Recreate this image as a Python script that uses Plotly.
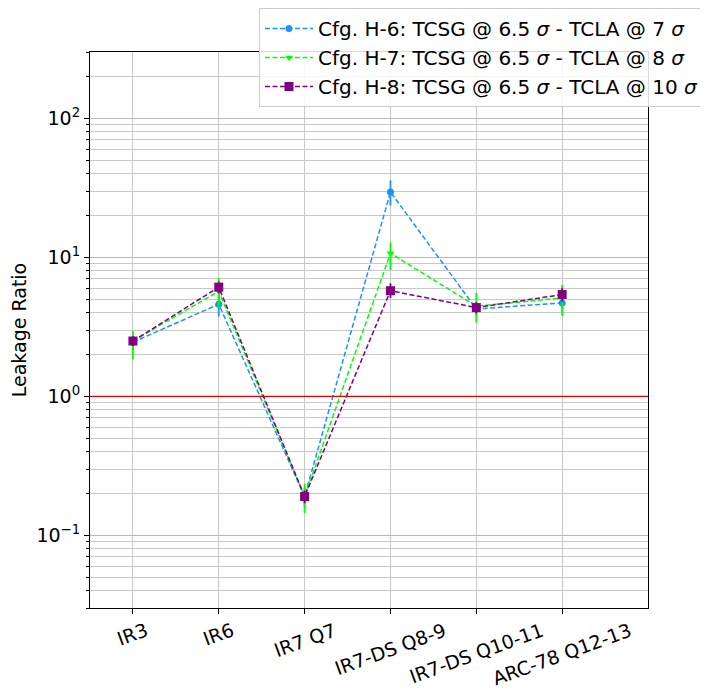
import plotly.graph_objects as go
import math

categories = ["IR3", "IR6", "IR7 Q7", "IR7-DS Q8-9", "IR7-DS Q10-11", "ARC-78 Q12-13"]

h6_vals = [2.45, 4.6, 0.19, 29.5, 4.25, 4.7]
h6_plus = [0.3, 0.8, 0.03, 6.3, 0.5, 0.6]
h6_minus = [0.3, 0.85, 0.03, 5.9, 0.5, 0.6]

h7_vals = [2.5, 5.7, 0.19, 10.7, 4.45, 5.1]
h7_plus = [0.45, 1.4, 0.045, 2.1, 1.1, 1.25]
h7_minus = [0.65, 1.4, 0.045, 2.6, 1.05, 1.3]

h8_vals = [2.5, 6.1, 0.19, 5.75, 4.35, 5.4]
h8_plus = [0.2, 0.6, 0.02, 0.75, 0.4, 0.6]
h8_minus = [0.2, 0.6, 0.02, 0.65, 0.4, 0.6]

y_tickvals = [0.1, 1, 10, 100]
y_ticktext = ["10<sup>−1</sup>", "10<sup>0</sup>", "10<sup>1</sup>", "10<sup>2</sup>"]

names = [
    "Cfg. H-6: TCSG @ 6.5 <i>σ</i> - TCLA @ 7 <i>σ</i>",
    "Cfg. H-7: TCSG @ 6.5 <i>σ</i> - TCLA @ 8 <i>σ</i>",
    "Cfg. H-8: TCSG @ 6.5 <i>σ</i> - TCLA @ 10 <i>σ</i>",
]
colors = ["#1E90FF", "#00FF00", "#800080"]
symbols = ["circle", "triangle-down", "square"]
sizes = [7, 7, 9]

series = [
    (h6_vals, h6_plus, h6_minus),
    (h7_vals, h7_plus, h7_minus),
    (h8_vals, h8_plus, h8_minus),
]

xpos = list(range(len(categories)))
FS = 19

fig = go.Figure()
for (vals, plus, minus), name, col, sym, sz in zip(series, names, colors, symbols, sizes):
    fig.add_trace(go.Scatter(
        x=xpos, y=vals, name=name, mode="lines+markers",
        line=dict(color=col, width=1.5, dash="5px,2.5px"),
        marker=dict(color=col, symbol=sym, size=sz),
        error_y=dict(type="data", symmetric=False, array=plus, arrayminus=minus,
                     color=col, thickness=1.8, width=0),
    ))

fig.add_shape(type="line", xref="paper", x0=0, x1=1, yref="y", y0=1, y1=1,
              line=dict(color="#e00000", width=1.2), layer="above")

for i, c in enumerate(categories):
    fig.add_annotation(x=i, xref="x", y=0, yref="paper", text=c, showarrow=False,
                       textangle=-20, xanchor="center", yanchor="top", yshift=-8,
                       font=dict(family="DejaVu Sans", size=FS, color="black"))

fig.update_layout(
    width=700, height=683,
    margin=dict(l=82, r=60, t=44, b=83, autoexpand=False),
    paper_bgcolor="white", plot_bgcolor="white",
    font=dict(family="DejaVu Sans", size=FS, color="black"),
    showlegend=True,
    legend=dict(xref="container", yref="container", x=0.9957, y=1.0,
                xanchor="right", yanchor="top",
                bgcolor="rgba(255,255,255,0.85)", bordercolor="#cccccc", borderwidth=1,
                font=dict(family="DejaVu Sans", size=20, color="black"),
                tracegroupgap=0, itemwidth=48),
)

fig.update_xaxes(
    range=[-0.5, 6.0], tickmode="array", tickvals=xpos,
    showticklabels=False, automargin=False,
    showgrid=True, gridcolor="#c8c8c8", gridwidth=1,
    ticks="outside", ticklen=5, tickcolor="black",
    showline=True, linecolor="black", linewidth=1, mirror=True, zeroline=False,
)
fig.update_yaxes(
    type="log", range=[math.log10(0.03), math.log10(300)],
    tickmode="array", tickvals=y_tickvals, ticktext=y_ticktext,
    automargin=False,
    title=dict(text="Leakage Ratio", font=dict(size=FS), standoff=6),
    tickfont=dict(size=FS),
    showgrid=True, gridcolor="#b8b8b8", gridwidth=1,
    ticks="outside", ticklen=5, tickcolor="black",
    minor=dict(dtick="D1", showgrid=True, gridcolor="#c8c8c8", gridwidth=1,
               ticks="outside", ticklen=3, tickcolor="black"),
    showline=True, linecolor="black", linewidth=1, mirror=True, zeroline=False,
)

fig.write_html("out.html")
